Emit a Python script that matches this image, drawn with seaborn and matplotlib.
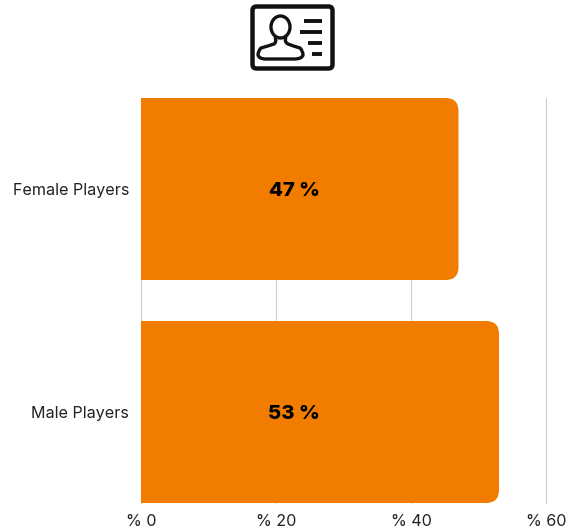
import matplotlib
matplotlib.use("Agg")
import matplotlib.pyplot as plt
from matplotlib.patches import FancyBboxPatch, PathPatch, Ellipse
from matplotlib.path import Path
import pandas as pd
import seaborn as sns

categories = ["Female Players", "Male Players"]
values = [47, 53]
value_labels = ["47 %", "53 %"]
x_ticks = [0, 20, 40, 60]
x_tick_labels = ["% 0", "% 20", "% 40", "% 60"]

W, H = 568, 531
sns.set_theme(style="white")
plt.rcParams["font.family"] = ["Inter", "DejaVu Sans"]

fig = plt.figure(figsize=(W / 100, H / 100), dpi=100)
ax = fig.add_axes([141 / W, 1 - 503 / H, (546.3 - 141) / W, (503 - 98) / H])

df = pd.DataFrame({"category": categories, "value": values})
bar_w = 182 / 223
sns.barplot(data=df, y="category", x="value", color="#F27C00", saturation=1,
            width=bar_w, ax=ax, zorder=3)

ax.set_xlim(0, 60)
ax.set_ylim(1 + bar_w / 2, -bar_w / 2)
ax.set_xlabel("")
ax.set_ylabel("")
ax.set_xticks(x_ticks, x_tick_labels)
ax.xaxis.grid(True, color="#CCCCCC", linewidth=0.8)
for gl in ax.get_xgridlines():
    gl.set_clip_on(False)
ax.yaxis.grid(False)
ax.set_axisbelow(True)
for s in ax.spines.values():
    s.set_visible(False)
ax.tick_params(axis="x", length=0, pad=8, labelsize=11.6, labelcolor="#222222")
ax.tick_params(axis="y", length=0, pad=8.6, labelsize=11.6, labelcolor="#222222")

# Round the right-hand corners of each bar
rx = 13 * 60 / (546.5 - 141)
ry = 13 * (1 + bar_w) / (503 - 98)
for bar in list(ax.patches):
    x0, y0, w, h = bar.get_x(), bar.get_y(), bar.get_width(), bar.get_height()
    x1, y1 = x0 + w, y0 + h
    verts = [(x0, y0), (x1 - rx, y0), (x1, y0), (x1, y0 + ry), (x1, y1 - ry),
             (x1, y1), (x1 - rx, y1), (x0, y1), (x0, y0)]
    codes = [Path.MOVETO, Path.LINETO, Path.CURVE3, Path.CURVE3, Path.LINETO,
             Path.CURVE3, Path.CURVE3, Path.LINETO, Path.CLOSEPOLY]
    ax.add_patch(PathPatch(Path(verts, codes), facecolor=bar.get_facecolor(),
                           edgecolor="none", zorder=3))
    bar.set_visible(False)

for i, lab in enumerate(value_labels):
    ax.annotate(lab, xy=(22.7, i), xytext=(0, -1.2), textcoords="offset points",
                ha="center", va="center", fontsize=14.6,
                fontweight="heavy", color="black", zorder=4)

# Icon, drawn in pixel coordinates
ic = fig.add_axes([0, 0, 1, 1], zorder=5)
ic.set_xlim(0, W)
ic.set_ylim(H, 0)
ic.axis("off")
ic.patch.set_alpha(0)
ic.add_patch(FancyBboxPatch((252.5, 6.5), 80, 62, boxstyle="round,pad=0,rounding_size=4",
                            fc="white", ec="#111111", lw=3.2))
ic.add_patch(Ellipse((280.5, 27), 19, 22, fc="none", ec="#111111", lw=2.4))
bverts = [(275, 37), (277, 42), (274, 44), (268, 46), (261, 48), (258, 51), (258, 55),
          (259, 59), (266, 59), (280, 59), (294, 59), (302, 59), (303, 55), (303, 51),
          (300, 48), (293, 46), (288, 44), (284, 42), (286, 37)]
bcodes = [Path.MOVETO] + [Path.CURVE3] * 18
ic.add_patch(PathPatch(Path(bverts, bcodes), fc="none", ec="#111111", lw=2.4))
for x0, x1, y in [(304, 322, 21), (300, 322, 32), (308, 322, 43), (312, 322, 54)]:
    ic.plot([x0, x1], [y, y], color="#111111", lw=2.8, solid_capstyle="butt")

fig.savefig("out.png", dpi=100)
